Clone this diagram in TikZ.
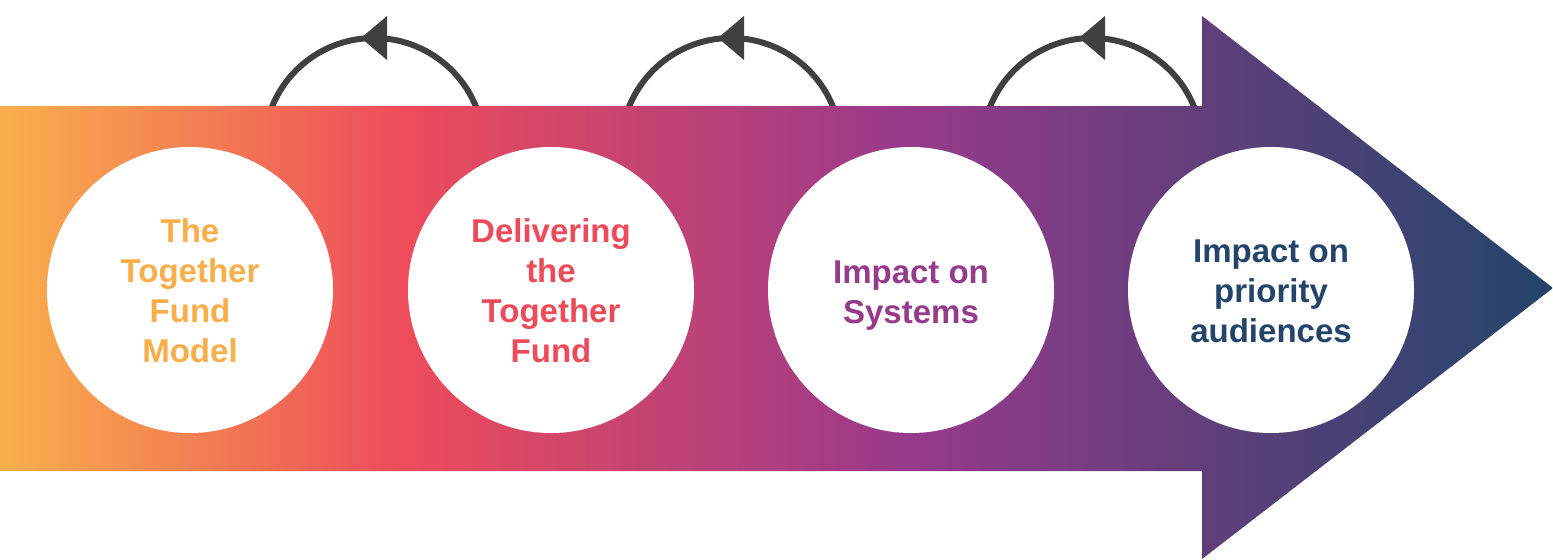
\documentclass[tikz,border=0pt]{standalone}
\usepackage{fontspec}
\setmainfont{Liberation Sans}
\usetikzlibrary{calc}
\definecolor{cOrange}{HTML}{F9B04C}
\definecolor{cRed}{HTML}{EE4C5A}
\definecolor{cPurple}{HTML}{993A8B}
\definecolor{cNavy}{HTML}{22456A}
\definecolor{cArc}{HTML}{404040}
\definecolor{tOrange}{HTML}{F9AE4A}
\definecolor{tRed}{HTML}{EE4B5A}
\definecolor{tPurple}{HTML}{963A8C}
\definecolor{tNavy}{HTML}{24446A}
% left-to-right colour flow of the big arrow (path box maps to 25bp..75bp)
\pgfdeclarehorizontalshading{flow}{100bp}{color(0bp)=(cOrange); color(25bp)=(cOrange); color(37.9bp)=(cRed); color(54bp)=(cPurple); color(75bp)=(cNavy); color(100bp)=(cNavy)}
\tikzset{
  stage/.style={circle, fill=white, minimum size=143pt, inner sep=0pt},
  stagetext/.style={align=center, inner sep=0pt, font=\fontsize{16.5}{20}\selectfont\bfseries},
  loopline/.style={draw=cArc, line width=3pt},
  looptip/.style={fill=cArc},
}
\begin{document}
\begin{tikzpicture}[x=0.5pt, y=0.5pt]
  \useasboundingbox (0,0) rectangle (1553,559);
  % feedback loops above the arrow
  \foreach \cx/\nm in {374/a, 731/b, 1092/c} {
    \coordinate (loop\nm) at (\cx,411);
    \draw[loopline] (loop\nm) ++(12:110) arc[start angle=12, end angle=168, radius=110];
    \fill[looptip] ($(loop\nm)+(-13,110)$) -- ($(loop\nm)+(13,132)$) -- ($(loop\nm)+(13,88)$) -- cycle;
  }
  % the big arrow
  \shade[shading=flow] (0,88) -- (0,453) -- (1202,453) -- (1202,543) -- (1553,271)
    -- (1202,0) -- (1202,88) -- cycle;
  % stages
  \node[stage] (s1) at (190,269) {};
  \node[stage] (s2) at (551,269) {};
  \node[stage] (s3) at (911,269) {};
  \node[stage] (s4) at (1271,269) {};
  \node[stagetext, text=tOrange, yshift=-0.6pt] (t1) at (s1) {The\\Together\\Fund\\Model};
  \node[stagetext, text=tRed, yshift=-0.6pt] (t2) at (s2) {Delivering\\the\\Together\\Fund};
  \node[stagetext, text=tPurple, yshift=-2.6pt] (t3) at (s3) {Impact on\\Systems};
  \node[stagetext, text=tNavy, yshift=-0.8pt] (t4) at (s4) {Impact on\\priority\\audiences};
\end{tikzpicture}
\end{document}
